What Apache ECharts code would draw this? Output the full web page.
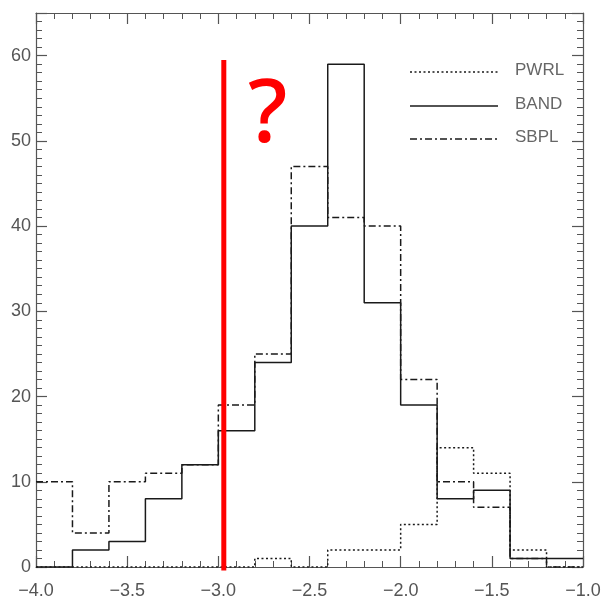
<!DOCTYPE html>
<html>
<head>
<meta charset="utf-8">
<script src="https://cdn.jsdelivr.net/npm/echarts@6/dist/echarts.min.js"></script>
<style>html,body{margin:0;padding:0;background:#fff}#c{width:606px;height:600px}</style>
</head>
<body>
<div id="c"></div>
<script>
// Bin edges (15 bins of width 0.2 from -4.0 to -1.0)
var binEdges = [-4.0,-3.8,-3.6,-3.4,-3.2,-3.0,-2.8,-2.6,-2.4,-2.2,-2.0,-1.8,-1.6,-1.4,-1.2,-1.0];
var pwrlCounts = [0,0,0,0,0,0,1,0,2,2,5,14,11,2,0];
var bandCounts = [0,2,3,8,12,16,24,40,59,31,19,8,9,1,1];
var sbplCounts = [10,4,10,11,12,19,25,47,41,40,22,10,7,1,0];
var seriesNames = ['PWRL','BAND','SBPL'];
var xTicks = [-4.0,-3.5,-3.0,-2.5,-2.0,-1.5,-1.0];
var yTicks = [0,10,20,30,40,50,60];
var markerX = -2.97;
var markerY = [-0.4, 59.5];
var markerText = '?';

function stepData(counts){
  var d = [];
  for (var i=0;i<counts.length;i++) d.push([binEdges[i], counts[i]]);
  d.push([binEdges[binEdges.length-1], counts[counts.length-1]]);
  return d;
}
var lineColor = '#1a1a1a';
var axisColor = '#555';
var textColor = '#555';
var font = 'Liberation Sans';
var pwrlDash = [2,2.5];
var sbplDash = [7,3,2,3];

var chart = echarts.init(document.getElementById('c'), null, {renderer:'canvas'});
function fmtX(v){ var s = Math.abs(v).toFixed(1); return (v<0?'\u2212':'')+s; }

var xCommon = {
  type:'value', min:-4, max:-1, interval:0.5,
  axisLine:{show:true, onZero:false, lineStyle:{color:axisColor, width:1.2}},
  axisTick:{show:true, inside:true, length:11, lineStyle:{color:axisColor, width:1.2}},
  minorTick:{show:true, splitNumber:5, length:6, lineStyle:{color:axisColor, width:1}},
  splitLine:{show:false}
};
var yCommon = {
  type:'value', min:0, max:65, interval:10,
  axisLine:{show:true, onZero:false, lineStyle:{color:axisColor, width:1.2}},
  axisTick:{show:true, inside:true, length:11, lineStyle:{color:axisColor, width:1.2}},
  minorTick:{show:true, splitNumber:10, length:6, lineStyle:{color:axisColor, width:1}},
  splitLine:{show:false}
};

var option = {
  animation:false,
  backgroundColor:'#fff',
  grid:{left:36, right:23, top:13, bottom:33, containLabel:false},
  xAxis:[
    Object.assign({}, xCommon, {position:'bottom',
      axisLabel:{show:true, margin:15, color:textColor, fontFamily:font, fontSize:18,
        formatter:function(v){ return xTicks.indexOf(Math.round(v*10)/10)>=0 ? fmtX(v) : ''; }}}),
    Object.assign({}, xCommon, {position:'top', axisLabel:{show:false}})
  ],
  yAxis:[
    Object.assign({}, yCommon, {position:'left',
      axisLabel:{show:true, margin:5, color:textColor, fontFamily:font, fontSize:18,
        formatter:function(v){ return yTicks.indexOf(v)>=0 ? String(v) : ''; }},
      }),
    Object.assign({}, yCommon, {position:'right', axisLabel:{show:false}})
  ],
  series:[
    {name:seriesNames[0], type:'line', step:'end', data:stepData(pwrlCounts), showSymbol:false, symbol:'none',
     lineStyle:{color:lineColor, width:1.5, type:pwrlDash}, z:3},
    {name:seriesNames[1], type:'line', step:'end', data:stepData(bandCounts), showSymbol:false, symbol:'none',
     lineStyle:{color:lineColor, width:1.5, type:'solid'}, z:4},
    {name:seriesNames[2], type:'line', step:'end', data:stepData(sbplCounts), showSymbol:false, symbol:'none',
     lineStyle:{color:lineColor, width:1.5, type:sbplDash}, z:3},
    {name:'marker', type:'line', data:[[markerX, markerY[0]],[markerX, markerY[1]]], showSymbol:false, symbol:'none',
     clip:false, lineStyle:{color:'#ff0000', width:5, cap:'butt'}, z:10}
  ],
  graphic:[
    {type:'line', shape:{x1:410, y1:72, x2:498, y2:72}, style:{stroke:lineColor, lineWidth:1.3, lineDash:pwrlDash}},
    {type:'line', shape:{x1:410, y1:106, x2:498, y2:106}, style:{stroke:lineColor, lineWidth:1.3}},
    {type:'line', shape:{x1:410, y1:139, x2:498, y2:139}, style:{stroke:lineColor, lineWidth:1.3, lineDash:sbplDash}},
    {type:'text', left:515, top:62, style:{text:seriesNames[0], fill:'#666', font:'17px "Liberation Sans"'}},
    {type:'text', left:515, top:96, style:{text:seriesNames[1], fill:'#666', font:'17px "Liberation Sans"'}},
    {type:'text', left:515, top:129, style:{text:seriesNames[2], fill:'#666', font:'17px "Liberation Sans"'}},
    {type:'text', left:248, top:73, z:20, style:{text:markerText, fill:'#ff0000', font:'500 88px "Noto Sans"'}}
  ]
};
chart.setOption(option);
</script>
</body>
</html>
